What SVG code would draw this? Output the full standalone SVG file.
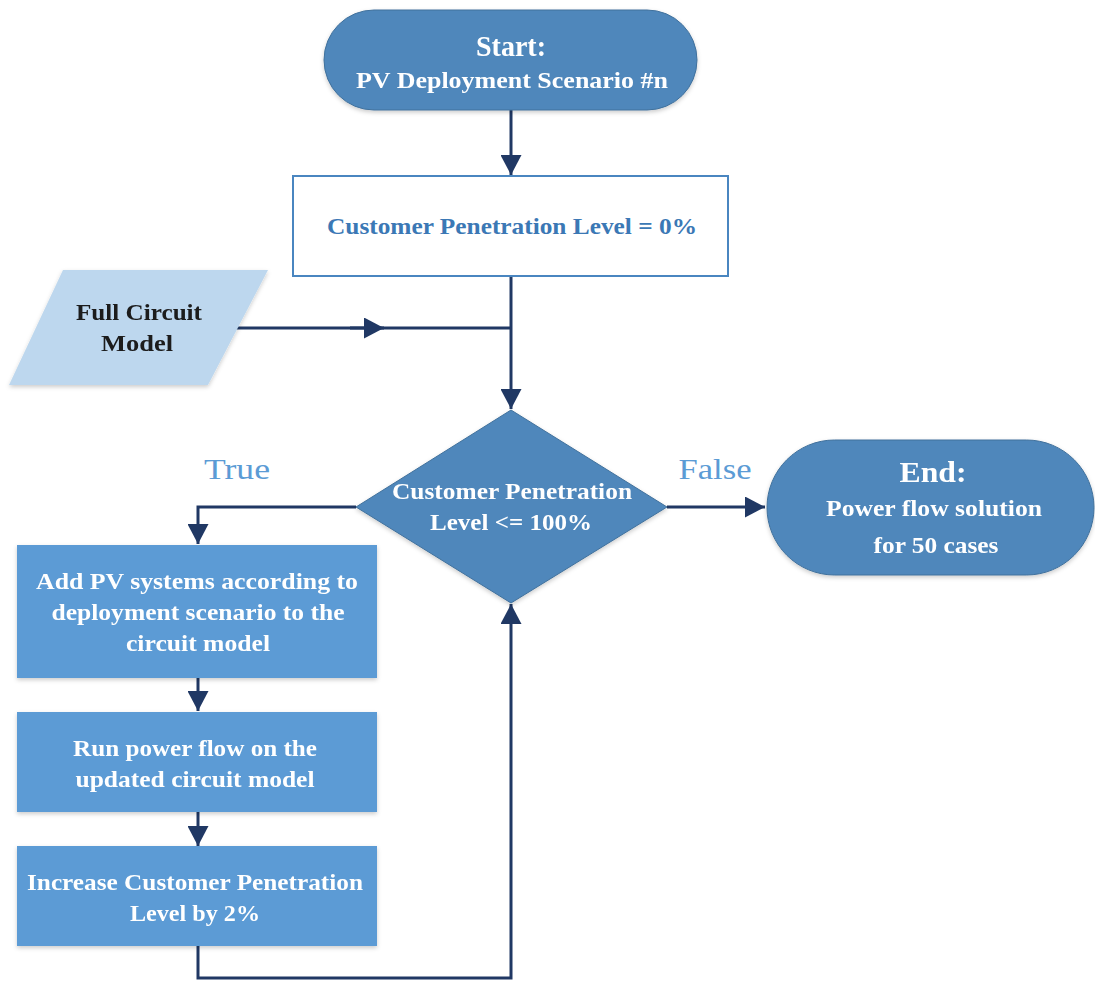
<svg xmlns="http://www.w3.org/2000/svg" width="1095" height="983" viewBox="0 0 1095 983">
<style>
.t{font-family:"Liberation Serif","Times New Roman",serif;font-weight:bold;text-anchor:middle}
.w{fill:#ffffff}
.dark{fill:#4f87bb}
.mid{fill:#5b9bd5}
.ln{fill:none;stroke:#203864;stroke-width:3}
.lbl{font-family:"Liberation Serif","Times New Roman",serif;fill:#5b9bd5;font-size:30px;text-anchor:middle}
</style>
<defs>
<marker id="arr" viewBox="0 0 10 10" refX="10" refY="5" markerWidth="20" markerHeight="21" markerUnits="userSpaceOnUse" orient="auto" preserveAspectRatio="none">
<path d="M0,0 L10,5 L0,10 z" fill="#203864"/>
</marker>
<filter id="sh" x="-10%" y="-10%" width="120%" height="130%">
<feDropShadow dx="0" dy="2" stdDeviation="2" flood-color="#000" flood-opacity="0.2"/>
</filter>
</defs>
<g id="connectors">
<path class="ln" d="M511,110 V175" marker-end="url(#arr)"/>
<path class="ln" d="M511,276 V409" marker-end="url(#arr)"/>
<path class="ln" d="M231,328 H511"/>
<path class="ln" d="M350,328 H384" marker-end="url(#arr)"/>
<path class="ln" d="M667,507 H765" marker-end="url(#arr)"/>
<path class="ln" d="M356,507 H198 V544" marker-end="url(#arr)"/>
<path class="ln" d="M198,678 V711" marker-end="url(#arr)"/>
<path class="ln" d="M198,812 V846" marker-end="url(#arr)"/>
<path class="ln" d="M198,946 V978 H511 V604" marker-end="url(#arr)"/>
</g>
<g id="start" filter="url(#sh)">
<rect x="324" y="10" width="373" height="100" rx="50" class="dark" stroke="#41719c" stroke-width="1"/>
<text class="t w" x="511" y="56" font-size="30" textLength="70" lengthAdjust="spacingAndGlyphs">Start:</text>
<text class="t w" x="512" y="88" font-size="24" textLength="312" lengthAdjust="spacingAndGlyphs">PV Deployment Scenario #n</text>
</g>
<g id="init">
<rect x="293" y="176" width="435" height="100" fill="#ffffff" stroke="#4a86c0" stroke-width="2"/>
<text class="t" x="512" y="234" font-size="24" fill="#3b78b5" textLength="370" lengthAdjust="spacingAndGlyphs">Customer Penetration Level = 0%</text>
</g>
<g id="model" filter="url(#sh)">
<polygon points="63,270 268,270 208,385 9,385" fill="#bdd7ee"/>
<text class="t" x="139" y="320" font-size="24" fill="#1a1a1a" textLength="126" lengthAdjust="spacingAndGlyphs">Full Circuit</text>
<text class="t" x="137" y="351" font-size="24" fill="#1a1a1a" textLength="72" lengthAdjust="spacingAndGlyphs">Model</text>
</g>
<g id="decision" filter="url(#sh)">
<polygon points="511,410 667,507 511,603 356,507" class="dark" stroke="#41719c" stroke-width="1"/>
<text class="t w" x="512" y="499" font-size="23" textLength="240" lengthAdjust="spacingAndGlyphs">Customer Penetration</text>
<text class="t w" x="511" y="530" font-size="23" textLength="162" lengthAdjust="spacingAndGlyphs">Level &lt;= 100%</text>
</g>
<g id="labels">
<text class="lbl" x="237" y="479" textLength="66" lengthAdjust="spacingAndGlyphs">True</text>
<text class="lbl" x="715" y="479" textLength="73" lengthAdjust="spacingAndGlyphs">False</text>
</g>
<g id="end" filter="url(#sh)">
<rect x="767" y="440" width="327" height="135" rx="67.5" class="dark" stroke="#41719c" stroke-width="1"/>
<text class="t w" x="933" y="482" font-size="30" textLength="67" lengthAdjust="spacingAndGlyphs">End:</text>
<text class="t w" x="934" y="516" font-size="24" textLength="216" lengthAdjust="spacingAndGlyphs">Power flow solution</text>
<text class="t w" x="936" y="553" font-size="24" textLength="125" lengthAdjust="spacingAndGlyphs">for 50 cases</text>
</g>
<g id="addpv" filter="url(#sh)">
<rect x="17" y="545" width="360" height="133" class="mid"/>
<text class="t w" x="197" y="589" font-size="24" textLength="322" lengthAdjust="spacingAndGlyphs">Add PV systems according to</text>
<text class="t w" x="198" y="620" font-size="24" textLength="293" lengthAdjust="spacingAndGlyphs">deployment scenario to the</text>
<text class="t w" x="198" y="651" font-size="24" textLength="144" lengthAdjust="spacingAndGlyphs">circuit model</text>
</g>
<g id="runpf" filter="url(#sh)">
<rect x="17" y="712" width="360" height="100" class="mid"/>
<text class="t w" x="195" y="756" font-size="24" textLength="244" lengthAdjust="spacingAndGlyphs">Run power flow on the</text>
<text class="t w" x="195" y="787" font-size="24" textLength="239" lengthAdjust="spacingAndGlyphs">updated circuit model</text>
</g>
<g id="increase" filter="url(#sh)">
<rect x="17" y="846" width="360" height="100" class="mid"/>
<text class="t w" x="195" y="890" font-size="24" textLength="336" lengthAdjust="spacingAndGlyphs">Increase Customer Penetration</text>
<text class="t w" x="195" y="921" font-size="24" textLength="130" lengthAdjust="spacingAndGlyphs">Level by 2%</text>
</g>
</svg>
